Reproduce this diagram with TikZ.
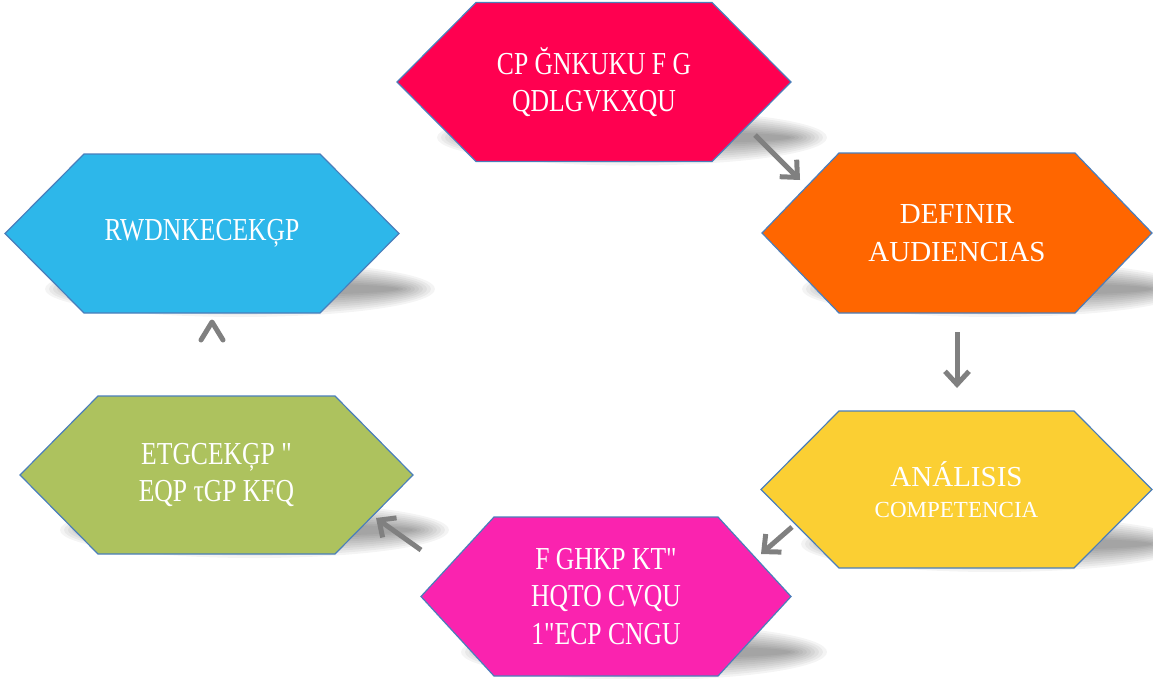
\documentclass[tikz,border=0pt]{standalone}
\usepackage{fontspec}
\setmainfont{Liberation Serif}
\newfontfamily\garbfont[FakeStretch=0.8]{Liberation Serif}
\usetikzlibrary{arrows.meta,calc}
\definecolor{hexred}{RGB}{255,0,80}
\definecolor{hexorange}{RGB}{255,102,0}
\definecolor{hexyellow}{RGB}{251,207,51}
\definecolor{hexpink}{RGB}{250,35,175}
\definecolor{hexgreen}{RGB}{173,194,94}
\definecolor{hexblue}{RGB}{45,183,234}
\definecolor{hexline}{RGB}{74,126,187}
\definecolor{arrowgray}{RGB}{128,128,128}
\tikzset{
  hexborder/.style={draw=hexline, line width=1.2pt, line join=miter},
  hextext/.style={text=white, align=center, inner sep=0pt},
  plainfont/.style={font=\fontsize{29}{37.5}\selectfont},
  garbled/.style={font=\garbfont\fontsize{32}{37.5}\selectfont},
  flowarrow/.style={draw=arrowgray, line width=5pt, -{Straight Barb[length=13pt,width=24pt]}},
  chevron/.style={draw=arrowgray, line width=5pt, line cap=round, line join=round},
}
% name, cx, cy, half width, inset, half height, colour, font style, text
\newcommand{\hexagonbox}[9]{%
  \foreach \k in {0,...,9} {%
    \fill[black, opacity=0.045] (#2+38,#3+#6-24) ellipse [x radius={(#4-2-4*\k)*1pt}, y radius={(28-2.4*\k)*1pt}];
  }
  \draw[hexborder, fill=#7] (#2-#4,#3) -- (#2-#4+#5,#3-#6) -- (#2+#4-#5,#3-#6) -- (#2+#4,#3) -- (#2+#4-#5,#3+#6) -- (#2-#4+#5,#3+#6) -- cycle;
  \node[hextext, #8] (#1) at (#2,#3) {#9};
}
\begin{document}
\begin{tikzpicture}[x=1pt, y=-1pt]
\useasboundingbox (0,0) rectangle (1153,678);

\hexagonbox{objetivos}{594}{82}{197}{79}{79.5}{hexred}{garbled}{CP ĞNKUKU F G\\QDLGVKXQU}
\hexagonbox{audiencias}{957}{233}{195}{77}{80}{hexorange}{plainfont}{DEFINIR\\AUDIENCIAS}
\hexagonbox{competencia}{956.5}{489.5}{195.5}{78}{78.5}{hexyellow}{plainfont}{ANÁLISIS\\[-6pt]{\fontsize{23}{28}\selectfont COMPETENCIA}}
\hexagonbox{formatos}{606}{596.5}{185}{73}{79.5}{hexpink}{garbled}{F GHKP KT"\\HQTO CVQU\\1"ECP CNGU}
\hexagonbox{contenido}{216.5}{475}{196.5}{78}{79}{hexgreen}{garbled}{ETGCEKĢP "\\EQP τGP KFQ}
\hexagonbox{publicacion}{202}{233.5}{197}{79}{79.5}{hexblue}{garbled}{RWDNKECEKĢP}

\coordinate (a1s) at (755,135);
\coordinate (a1e) at (800,180);
\coordinate (a2s) at (957,332);
\coordinate (a2e) at (957,388);
\coordinate (a3s) at (792,527);
\coordinate (a3e) at (761,554);
\coordinate (a4s) at (421,550);
\coordinate (a4e) at (376,518);
\coordinate (c1) at (201,340);
\coordinate (c2) at (212,322);
\coordinate (c3) at (223,340);

\draw[flowarrow] (a1s) -- (a1e);
\draw[flowarrow] (a2s) -- (a2e);
\draw[flowarrow] (a3s) -- (a3e);
\draw[flowarrow] (a4s) -- (a4e);
\draw[chevron] (c1) -- (c2) -- (c3);
\end{tikzpicture}
\end{document}
